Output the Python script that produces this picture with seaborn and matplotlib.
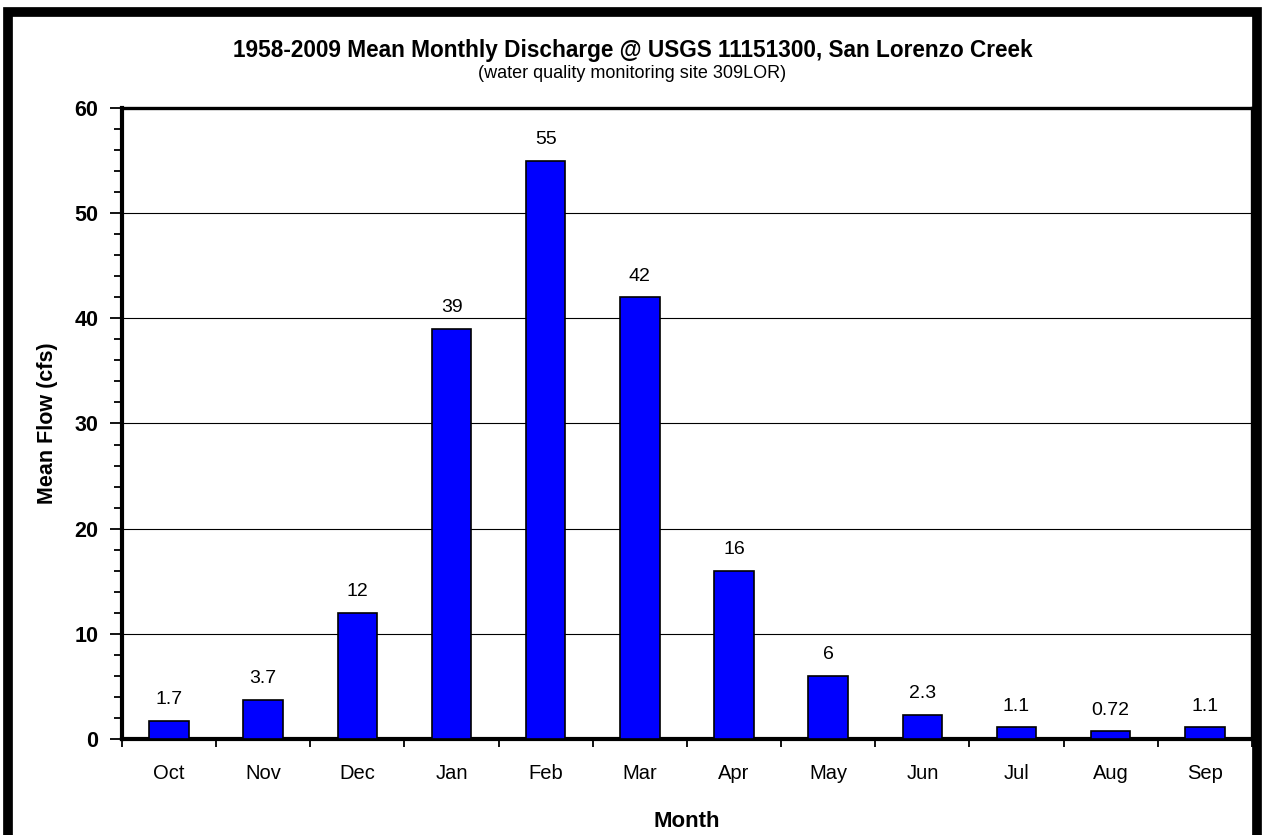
import numpy as np
import pandas as pd
import matplotlib
matplotlib.use("Agg")
import matplotlib.pyplot as plt
import seaborn as sns
from matplotlib.ticker import MultipleLocator, FixedLocator
from matplotlib.patches import Rectangle

months = ["Oct", "Nov", "Dec", "Jan", "Feb", "Mar", "Apr", "May", "Jun", "Jul", "Aug", "Sep"]
flow = [1.7, 3.7, 12, 39, 55, 42, 16, 6, 2.3, 1.1, 0.72, 1.1]
flow_labels = ["1.7", "3.7", "12", "39", "55", "42", "16", "6", "2.3", "1.1", "0.72", "1.1"]

df = pd.DataFrame({"Month": months, "Flow": flow})

sns.set_style("white")
plt.rcParams["font.family"] = ["Liberation Sans", "DejaVu Sans"]
plt.rcParams["text.color"] = "black"
plt.rcParams["axes.labelcolor"] = "black"
plt.rcParams["xtick.color"] = "black"
plt.rcParams["ytick.color"] = "black"

fig = plt.figure(figsize=(12.65, 8.35), dpi=100)
ax = fig.add_axes([0.0964, 0.115, 0.8933, 0.7557])

sns.barplot(data=df, x="Month", y="Flow", color="#0000FF", saturation=1,
            width=0.42, edgecolor="black", linewidth=1.2, ax=ax, zorder=3)

ax.set_ylim(0, 60)
ax.set_xlim(-0.5, len(months) - 0.5)
ax.yaxis.set_major_locator(MultipleLocator(10))
ax.yaxis.set_minor_locator(MultipleLocator(2))
ax.grid(axis="y", which="major", color="black", linewidth=0.8, zorder=0)

# value labels
for i, (v, lab) in enumerate(zip(flow, flow_labels)):
    ax.text(i, v + 1.2, lab, ha="center", va="bottom", fontsize=14)

# x ticks between categories
ax.set_xticks(range(len(months)))
ax.set_xticklabels(months, fontsize=14.5)
ax.tick_params(axis="x", which="major", bottom=False, length=0, pad=18)
ax.xaxis.set_minor_locator(FixedLocator(np.arange(-0.5, len(months), 1)))
ax.tick_params(axis="x", which="minor", bottom=True, direction="out", length=6, width=1.3)

ax.tick_params(axis="y", which="major", left=True, direction="out", length=9, width=1.3,
               labelsize=15.5, pad=8)
ax.tick_params(axis="y", which="minor", left=True, direction="out", length=6, width=1.3)
for lab in ax.get_yticklabels():
    lab.set_fontweight("bold")

for side in ["left", "bottom"]:
    ax.spines[side].set_linewidth(3)
for side in ["top", "right"]:
    ax.spines[side].set_linewidth(2.4)
for s in ax.spines.values():
    s.set_color("black")

ax.set_xlabel("Month", fontsize=16, fontweight="bold", labelpad=20)
ax.set_ylabel("Mean Flow (cfs)", fontsize=15.5, fontweight="bold", labelpad=12)

fig.text(0.5, 0.94, "1958-2009 Mean Monthly Discharge @ USGS 11151300, San Lorenzo Creek",
         ha="center", va="center", fontsize=16.3, fontweight="bold")
fig.text(0.5, 0.912, "(water quality monitoring site 309LOR)",
         ha="center", va="center", fontsize=13)

# outer frame
frame = Rectangle((0.0064, -0.05), 0.9874, 1.036, transform=fig.transFigure,
                  fill=False, edgecolor="black", linewidth=7, zorder=10)
fig.add_artist(frame)

fig.savefig("out.png", dpi=100)
